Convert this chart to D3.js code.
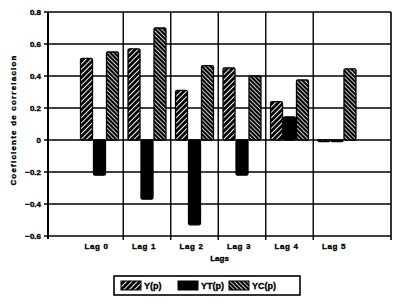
<!DOCTYPE html>
<html>
<head>
<meta charset="utf-8">
<script src="https://cdn.jsdelivr.net/npm/d3@7"></script>
<style>
  body { margin: 0; background: #fff; }
  text { font-family: "Liberation Sans", Arial, sans-serif; font-weight: bold; fill: #000; stroke: #000; stroke-width: 0.35; }
</style>
</head>
<body>
<div id="chart"></div>
<script>
const lags = ["Lag 0", "Lag 1", "Lag 2", "Lag 3", "Lag 4", "Lag 5"];
const series = ["Y(p)", "YT(p)", "YC(p)"];
const yValues = [0.51, 0.57, 0.31, 0.45, 0.24, -0.01];
const ytValues = [-0.22, -0.37, -0.53, -0.22, 0.145, -0.01];
const ycValues = [0.55, 0.70, 0.465, 0.40, 0.375, 0.445];
const yTicks = [-0.6, -0.4, -0.2, 0, 0.2, 0.4, 0.6, 0.8];

const width = 400, height = 307;
const plot = { left: 48, right: 391, top: 12, bottom: 236 };

const svg = d3.select("#chart")
  .append("svg")
  .attr("width", width)
  .attr("height", height);

// hatch patterns
const defs = svg.append("defs");
function hatch(id, size, lineW, angle) {
  const p = defs.append("pattern")
    .attr("id", id)
    .attr("patternUnits", "userSpaceOnUse")
    .attr("width", size)
    .attr("height", size)
    .attr("patternTransform", `rotate(${angle})`);
  p.append("rect").attr("width", size).attr("height", size).attr("fill", "#000");
  p.append("rect").attr("x", 0).attr("width", lineW).attr("height", size).attr("fill", "#fff");
}
hatch("hatchY", 3.8, 1.0, 45);
hatch("hatchYC", 3.0, 0.8, -45);
const fills = { "Y(p)": "url(#hatchY)", "YT(p)": "#000", "YC(p)": "url(#hatchYC)" };

const x = d3.scaleBand()
  .domain(lags)
  .range([75.75, 360.75])
  .paddingInner(0.18)
  .paddingOuter(0.09);
const x1 = d3.scaleBand().domain(series).range([0, x.bandwidth()]);
const y = d3.scaleLinear().domain([-0.6, 0.8]).range([plot.bottom, plot.top]);

const data = lags.map((lag, i) => ({
  lag,
  values: [
    { key: "Y(p)", v: yValues[i] },
    { key: "YT(p)", v: ytValues[i] },
    { key: "YC(p)", v: ycValues[i] },
  ],
}));

// grid
const grid = svg.append("g").attr("stroke", "#000");
grid.selectAll("line.h")
  .data(yTicks)
  .join("line")
  .attr("class", "h")
  .attr("x1", plot.left - 4)
  .attr("x2", plot.right)
  .attr("y1", (d) => y(d))
  .attr("y2", (d) => y(d))
  .attr("stroke-width", 1.4);

const step = x.step();
const bounds = lags.slice(1).map((l) => x(l) - (step * x.paddingInner()) / 2);
grid.selectAll("line.v")
  .data(bounds)
  .join("line")
  .attr("class", "v")
  .attr("x1", (d) => d)
  .attr("x2", (d) => d)
  .attr("y1", plot.top)
  .attr("y2", plot.bottom + 4)
  .attr("stroke-width", 1.4);

// frame
grid.append("line")
  .attr("x1", plot.left).attr("x2", plot.left)
  .attr("y1", plot.top).attr("y2", plot.bottom + 3)
  .attr("stroke-width", 2);
grid.append("line")
  .attr("x1", plot.right).attr("x2", plot.right)
  .attr("y1", plot.top).attr("y2", plot.bottom + 4)
  .attr("stroke-width", 1.6);

// bars
svg.append("g")
  .selectAll("g")
  .data(data)
  .join("g")
  .attr("transform", (d) => `translate(${x(d.lag)},0)`)
  .selectAll("rect")
  .data((d) => d.values)
  .join("rect")
  .attr("x", (d) => x1(d.key) + 0.5)
  .attr("width", x1.bandwidth() - 1)
  .attr("y", (d) => Math.min(y(d.v), y(0)))
  .attr("height", (d) => Math.max(1, Math.abs(y(d.v) - y(0))))
  .attr("rx", 1.5)
  .attr("fill", (d) => fills[d.key])
  .attr("stroke", "#000")
  .attr("stroke-width", 1.3);

// y tick labels
svg.append("g")
  .selectAll("text")
  .data(yTicks)
  .join("text")
  .attr("x", 41)
  .attr("y", (d) => y(d) + 3)
  .attr("text-anchor", "end")
  .attr("font-size", 8)
  .text((d) => (d === 0 ? "0" : d3.format(".1f")(d)));

// x labels
svg.append("g")
  .selectAll("text")
  .data(lags)
  .join("text")
  .attr("x", (d) => x(d) + x.bandwidth() / 2 - 3)
  .attr("y", 249)
  .attr("text-anchor", "middle")
  .attr("font-size", 8)
  .attr("letter-spacing", 0.6)
  .text((d) => d);

svg.append("text")
  .attr("x", (plot.left + plot.right) / 2)
  .attr("y", 261)
  .attr("text-anchor", "middle")
  .attr("font-size", 8)
  .text("Lags");

svg.append("text")
  .attr("transform", `translate(16,${(plot.top + plot.bottom) / 2 - 4}) rotate(-90)`)
  .attr("text-anchor", "middle")
  .attr("font-size", 8)
  .attr("letter-spacing", 1.2)
  .text("Coeficiente de correlacion");

// legend
const legend = svg.append("g");
legend.append("rect")
  .attr("x", 114).attr("y", 276)
  .attr("width", 186).attr("height", 19)
  .attr("fill", "#fff")
  .attr("stroke", "#000")
  .attr("stroke-width", 1.6);
const legX = { "Y(p)": 121, "YT(p)": 178, "YC(p)": 229 };
const item = legend.selectAll("g")
  .data(series)
  .join("g")
  .attr("transform", (d) => `translate(${legX[d]},281)`);
item.append("rect")
  .attr("width", 20).attr("height", 9)
  .attr("fill", (d) => fills[d])
  .attr("stroke", "#000")
  .attr("stroke-width", 1);
item.append("text")
  .attr("x", 23)
  .attr("y", 8)
  .attr("font-size", 9)
  .text((d) => d);
</script>
</body>
</html>
